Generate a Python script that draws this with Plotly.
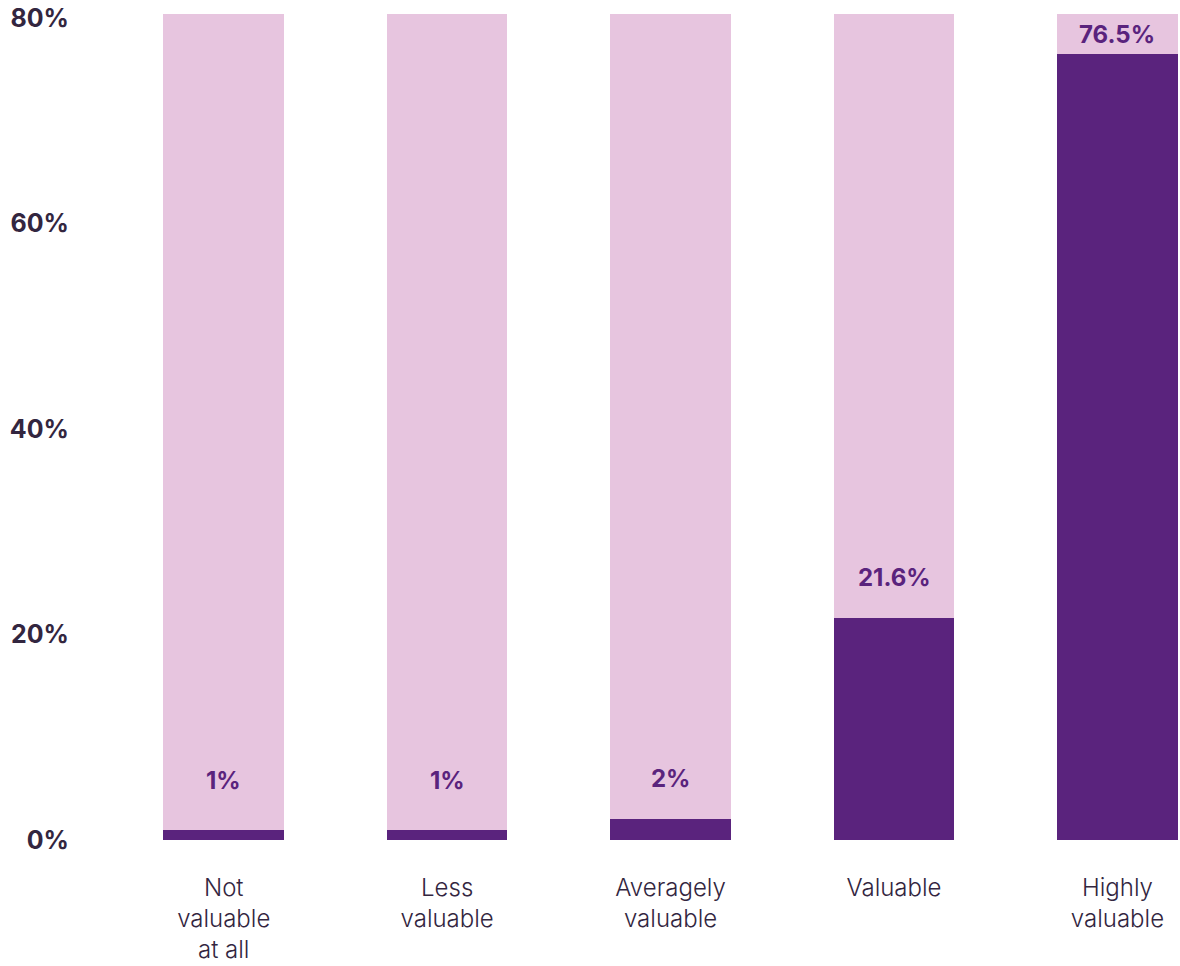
import numpy as np
import plotly.graph_objects as go

# Survey answers: how valuable respondents rate the offering
categories = ["Not<br>valuable<br>at all", "Less<br>valuable", "Averagely<br>valuable",
              "Valuable", "Highly<br>valuable"]
shares = [1, 1, 2, 21.6, 76.5]          # % of respondents
share_labels = ["1%", "1%", "2%", "21.6%", "76.5%"]
totals = [100, 100, 100, 100, 100]      # full-height track behind each bar

y_ticks = [0, 20, 40, 60, 80]
y_tick_labels = ["0%", "20%", "40%", "60%", "80%"]

TRACK = "#e7c5df"
BAR = "#5a237d"
LABEL = "#5a237d"
AXIS_TEXT = "#33263f"
Y_MAX = 80.4

fig = go.Figure()
fig.add_trace(go.Bar(x=categories, y=totals, marker=dict(color=TRACK, line_width=0),
                     width=0.54, hoverinfo="skip"))
fig.add_trace(go.Bar(x=categories, y=shares, marker=dict(color=BAR, line_width=0),
                     width=0.54))

# value labels sit a little above each bar, with a floor near the baseline
# and kept inside the frame at the top
label_y = np.clip(np.array(shares) + 4.0, 5.84, Y_MAX - 2.0)
for cat, ly, txt in zip(categories, label_y, share_labels):
    fig.add_annotation(x=cat, y=ly, text=txt, showarrow=False, yanchor="middle",
                       font=dict(family="Inter", size=24, color=LABEL, weight=700))

fig.update_layout(
    barmode="overlay",
    width=1180, height=966,
    margin=dict(l=112, r=0, t=14, b=126),
    paper_bgcolor="white", plot_bgcolor="white",
    showlegend=False,
    bargap=0,
)
fig.update_xaxes(range=[-0.5, 4.28], showgrid=False, zeroline=False, showline=False,
                 ticks="", ticklabelstandoff=31, automargin=False,
                 tickfont=dict(family="Inter", size=24, color=AXIS_TEXT, weight=300))
fig.update_yaxes(range=[0, Y_MAX], tickvals=y_ticks, ticktext=y_tick_labels,
                 showgrid=False, zeroline=False, showline=False, ticks="",
                 ticklabelstandoff=42, automargin=False,
                 tickfont=dict(family="Inter", size=25, color=AXIS_TEXT, weight=700))

fig.write_html("out.html")
